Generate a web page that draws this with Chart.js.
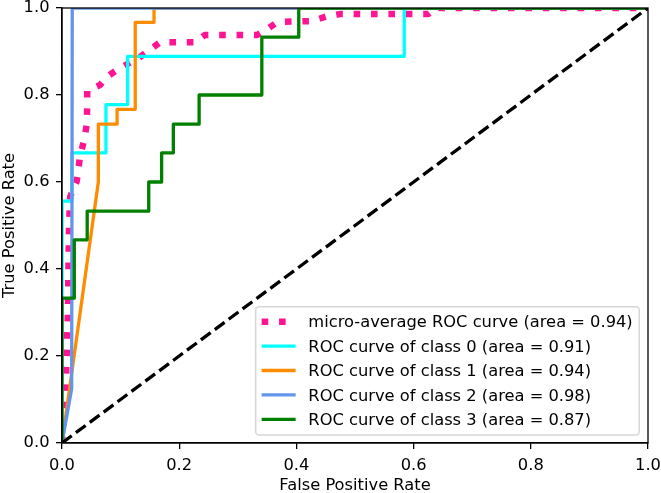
<!DOCTYPE html>
<html>
<head>
<meta charset="utf-8">
<script src="https://cdn.jsdelivr.net/npm/chart.js@4.4.0/dist/chart.umd.min.js"></script>
<style>
  html, body { margin: 0; padding: 0; background: #fff; }
  #rocChart { display: block; }
</style>
</head>
<body>
<canvas id="rocChart" width="661" height="493"></canvas>
<script>
// values (fpr / tpr pairs)
var microFpr = [0, 0.006, 0.010, 0.012, 0.014, 0.025, 0.028, 0.031, 0.038, 0.042, 0.043, 0.043, 0.065, 0.076, 0.093, 0.114, 0.133, 0.151, 0.167, 0.227, 0.244, 0.333, 0.352, 0.368, 0.427, 0.450, 0.474, 0.625, 0.637, 1];
var microTpr = [0, 0.10, 0.30, 0.50, 0.566, 0.601, 0.630, 0.662, 0.697, 0.731, 0.770, 0.810, 0.823, 0.841, 0.857, 0.873, 0.887, 0.905, 0.921, 0.921, 0.938, 0.938, 0.953, 0.968, 0.970, 0.980, 0.986, 0.986, 1, 1];

var class0Fpr = [0, 0, 0.017, 0.017, 0.075, 0.075, 0.112, 0.112, 0.584, 0.584, 1];
var class0Tpr = [0, 0.556, 0.556, 0.667, 0.667, 0.778, 0.778, 0.889, 0.889, 1, 1];

var class1Fpr = [0, 0.062, 0.062, 0.094, 0.094, 0.125, 0.125, 0.157, 0.157, 1];
var class1Tpr = [0, 0.600, 0.733, 0.733, 0.767, 0.767, 0.967, 0.967, 1, 1];

var class2Fpr = [0, 0.0165, 0.0175, 1];
var class2Tpr = [0, 0.125, 1, 1];

var class3Fpr = [0, 0, 0.021, 0.021, 0.043, 0.043, 0.148, 0.148, 0.170, 0.170, 0.190, 0.190, 0.234, 0.234, 0.341, 0.341, 0.404, 0.404, 1];
var class3Tpr = [0, 0.333, 0.333, 0.467, 0.467, 0.533, 0.533, 0.600, 0.600, 0.667, 0.667, 0.733, 0.733, 0.800, 0.800, 0.933, 0.933, 1, 1];

var chanceLine = [0, 1];

var seriesLabels = [
    "micro-average ROC curve (area = 0.94)",
    "ROC curve of class 0 (area = 0.91)",
    "ROC curve of class 1 (area = 0.94)",
    "ROC curve of class 2 (area = 0.98)",
    "ROC curve of class 3 (area = 0.87)"
];
var axisTicks = [0.0, 0.2, 0.4, 0.6, 0.8, 1.0];

function toPoints(xs, ys) {
    return xs.map(function (x, i) { return { x: x, y: ys[i] }; });
}

Chart.defaults.font.family = "'DejaVu Sans', sans-serif";
Chart.defaults.font.size = 16.3;
Chart.defaults.color = '#000';

// box around the plot, drawn over the curves like matplotlib spines
var frameAndLegend = {
    id: 'frameAndLegend',
    afterDatasetsDraw: function (chart) {
        var ctx = chart.ctx, area = chart.chartArea;
        ctx.save();
        ctx.strokeStyle = '#000';
        ctx.lineWidth = 1.3;
        ctx.strokeRect(area.left, area.top, area.right - area.left, area.bottom - area.top);
        ctx.restore();
    },
    afterDraw: function (chart) {
        var ctx = chart.ctx, area = chart.chartArea;
        var items = chart.data.datasets.filter(function (d) { return d.label; });
        ctx.save();
        ctx.font = "16.3px 'DejaVu Sans'";
        var textW = Math.max.apply(null, items.map(function (d) { return ctx.measureText(d.label).width; }));
        var rowH = 24.4;
        var boxRight = area.right - 8.7, boxBottom = area.bottom - 8;
        var boxH = 15 + (items.length - 1) * rowH + 15.7;
        var boxTop = boxBottom - boxH;
        var textX = boxRight - 6.6 - textW;
        var boxLeft = textX - 52.7;
        ctx.beginPath();
        ctx.roundRect(boxLeft, boxTop, boxRight - boxLeft, boxH, 3.5);
        ctx.fillStyle = 'rgba(255,255,255,0.8)';
        ctx.fill();
        ctx.lineWidth = 1.5;
        ctx.strokeStyle = 'rgba(204,204,204,0.8)';
        ctx.stroke();
        items.forEach(function (d, i) {
            var cy = boxTop + 15 + i * rowH;
            ctx.beginPath();
            ctx.setLineDash(d.borderDash || []);
            ctx.lineDashOffset = 0;
            ctx.lineCap = 'butt';
            ctx.strokeStyle = d.borderColor;
            ctx.lineWidth = d.borderWidth;
            ctx.moveTo(boxLeft + 6, cy);
            ctx.lineTo(boxLeft + 40, cy);
            ctx.stroke();
            ctx.setLineDash([]);
            ctx.fillStyle = '#000';
            ctx.textAlign = 'left';
            ctx.textBaseline = 'alphabetic';
            ctx.fillText(d.label, textX, cy + 5.6);
        });
        ctx.restore();
    }
};

var rocChart = new Chart(document.getElementById('rocChart'), {
    type: 'scatter',
    data: {
        datasets: [{
            label: seriesLabels[0],
            data: toPoints(microFpr, microTpr),
            borderColor: '#ff1493',
            borderWidth: 6.5,
            borderDash: [6.6, 10.8],
            borderCapStyle: 'butt',
            order: 5
        }, {
            label: seriesLabels[1],
            data: toPoints(class0Fpr, class0Tpr),
            borderColor: '#00ffff',
            borderWidth: 3.3,
            order: 4
        }, {
            label: seriesLabels[2],
            data: toPoints(class1Fpr, class1Tpr),
            borderColor: '#ff8c00',
            borderWidth: 3.3,
            order: 3
        }, {
            label: seriesLabels[3],
            data: toPoints(class2Fpr, class2Tpr),
            borderColor: '#6495ed',
            borderWidth: 3.3,
            order: 2
        }, {
            label: seriesLabels[4],
            data: toPoints(class3Fpr, class3Tpr),
            borderColor: '#008000',
            borderWidth: 3.3,
            order: 1
        }, {
            label: '',
            data: toPoints(chanceLine, chanceLine),
            borderColor: '#000',
            borderWidth: 3.3,
            borderDash: [12.1, 5.2],
            borderCapStyle: 'butt',
            order: 0
        }]
    },
    options: {
        responsive: false,
        animation: false,
        showLine: true,
        datasets: {
            scatter: {
                showLine: true,
                pointRadius: 0,
                pointHoverRadius: 0,
                borderJoinStyle: 'round',
                clip: 0,
                tension: 0
            }
        },
        layout: { padding: { left: 0, top: 8, right: 13, bottom: 0 } },
        plugins: {
            legend: { display: false },
            tooltip: { enabled: false }
        },
        scales: {
            x: {
                type: 'linear',
                min: 0,
                max: 1,
                afterBuildTicks: function (scale) {
                    scale.ticks = axisTicks.map(function (v) { return { value: v }; });
                },
                afterFit: function (scale) {
                    scale.height = 50;
                    scale.paddingLeft = 0;
                    scale.paddingRight = 0;
                },
                grid: { drawOnChartArea: false, drawTicks: true, tickLength: 6, color: '#000', lineWidth: 1.3 },
                border: { display: true, color: '#000', width: 1.3 },
                ticks: {
                    padding: 7,
                    maxRotation: 0,
                    autoSkip: false,
                    callback: function (v) { return v.toFixed(1); }
                },
                title: {
                    display: true,
                    text: 'False Positive Rate',
                    font: { size: 16.3, lineHeight: 1.2 },
                    padding: { top: 0, bottom: -3 }
                }
            },
            y: {
                type: 'linear',
                min: 0,
                max: 1,
                afterBuildTicks: function (scale) {
                    scale.ticks = axisTicks.map(function (v) { return { value: v }; });
                },
                afterFit: function (scale) {
                    scale.width = 62;
                    scale.paddingTop = 0;
                    scale.paddingBottom = 0;
                },
                grid: { drawOnChartArea: false, drawTicks: true, tickLength: 6, color: '#000', lineWidth: 1.3 },
                border: { display: true, color: '#000', width: 1.3 },
                ticks: {
                    padding: 6.5,
                    autoSkip: false,
                    callback: function (v) { return v.toFixed(1); }
                },
                title: {
                    display: true,
                    text: 'True Positive Rate',
                    font: { size: 16.3, lineHeight: 1.2 },
                    padding: { top: 0, bottom: 0 }
                }
            }
        }
    },
    plugins: [frameAndLegend]
});
</script>
</body>
</html>
